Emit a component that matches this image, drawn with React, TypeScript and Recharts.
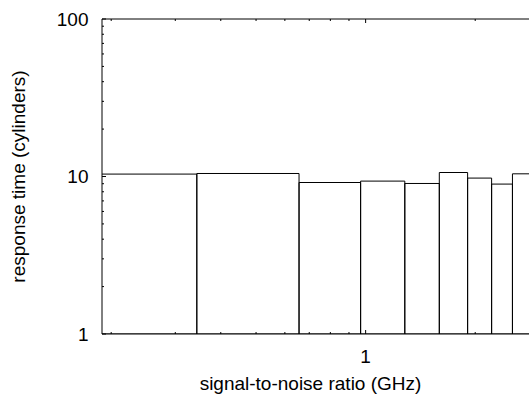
import React from 'react';
import { ComposedChart, XAxis, YAxis, ReferenceArea, Label } from 'recharts';

// Box centers (x, GHz) and heights (response time)
const boxCenters = [0.1875, 0.5, 0.8125, 1.125, 1.4375, 1.75, 2.0625, 2.375, 2.6875];
const boxValues = [10.36, 10.45, 9.16, 9.35, 9.03, 10.6, 9.77, 8.95, 10.4];
const BOX_WIDTH = 0.3125;

const xTicks = [0.2, 0.3, 0.4, 0.5, 0.6, 0.7, 0.8, 0.9, 1, 2, 3];
const xMajorLabels = [1];
const yTicks = [1, 2, 3, 4, 5, 6, 7, 8, 9, 10, 20, 30, 40, 50, 60, 70, 80, 90, 100];
const yMajorLabels = [1, 10, 100];

const X_DOMAIN: [number, number] = [0.1887, 3.11];
const Y_DOMAIN: [number, number] = [1, 100];

const xLabel = 'signal-to-noise ratio (GHz)';
const yLabel = 'response time (cylinders)';

const FONT = '"Liberation Sans", Arial, Helvetica, sans-serif';
const FONT_SIZE = 19;

const boxes = boxCenters.map((c, i) => ({ x: c, x1: c - BOX_WIDTH / 2, x2: c + BOX_WIDTH / 2, v: boxValues[i] }));

const BottomTick = (props: any) => {
  const { x, y, payload } = props;
  const major = xMajorLabels.includes(payload.value);
  return (
    <g>
      <line x1={x} x2={x} y1={y} y2={y - (major ? 4 : 2)} stroke="#000" strokeWidth={1} />
      {major && (
        <text x={x} y={y + 28.7} textAnchor="middle" fontSize={FONT_SIZE} fontFamily={FONT} fill="#000">
          {payload.value}
        </text>
      )}
    </g>
  );
};

const TopTick = (props: any) => {
  const { x, y, payload } = props;
  const major = xMajorLabels.includes(payload.value);
  return <line x1={x} x2={x} y1={y} y2={y + (major ? 4 : 2)} stroke="#000" strokeWidth={1} />;
};

const LeftTick = (props: any) => {
  const { x, y, payload } = props;
  const major = yMajorLabels.includes(payload.value);
  return (
    <g>
      <line x1={x} x2={x + (major ? 4 : 2)} y1={y} y2={y} stroke="#000" strokeWidth={1} />
      {major && (
        <text x={x - 13.5} y={y + 6.5} textAnchor="end" fontSize={FONT_SIZE} fontFamily={FONT} fill="#000">
          {payload.value}
        </text>
      )}
    </g>
  );
};

export default function App() {
  return (
    <div style={{ position: 'absolute', left: 0, top: 0, width: 529, height: 396, overflow: 'hidden', background: '#fff' }}>
      <ComposedChart
        width={545}
        height={396}
        data={boxes}
        margin={{ top: 18, right: 0, bottom: 22, left: 42 }}
      >
        <XAxis
          xAxisId="bottom"
          dataKey="x"
          orientation="bottom"
          type="number"
          scale="log"
          domain={X_DOMAIN}
          allowDataOverflow
          ticks={xTicks}
          interval={0}
          tickSize={0}
          tickMargin={0}
          tickLine={false}
          tick={<BottomTick />}
          height={40}
          axisLine={{ stroke: '#000', strokeWidth: 1 }}
        >
          <Label
            content={(p: any) => (
              <text
                x={p.viewBox.x + 208.5}
                y={p.viewBox.y + 56}
                textAnchor="middle"
                fontSize={FONT_SIZE}
                fontFamily={FONT}
                fill="#000"
              >
                {xLabel}
              </text>
            )}
          />
        </XAxis>
        <XAxis
          xAxisId="top"
          dataKey="x"
          orientation="top"
          type="number"
          scale="log"
          domain={X_DOMAIN}
          allowDataOverflow
          ticks={xTicks}
          interval={0}
          tickSize={0}
          tickMargin={0}
          tickLine={false}
          tick={<TopTick />}
          height={1}
          axisLine={{ stroke: '#000', strokeWidth: 1 }}
        />
        <YAxis
          yAxisId="left"
          dataKey="v"
          type="number"
          scale="log"
          domain={Y_DOMAIN}
          allowDataOverflow
          ticks={yTicks}
          interval={0}
          tickSize={0}
          tickMargin={0}
          tickLine={false}
          tick={<LeftTick />}
          width={60}
          axisLine={{ stroke: '#000', strokeWidth: 1 }}
        >
          <Label
            content={(p: any) => {
              const cx = p.viewBox.x - 17;
              const cy = p.viewBox.y + p.viewBox.height / 2;
              return (
                <text
                  x={cx}
                  y={cy}
                  transform={`rotate(-90, ${cx}, ${cy})`}
                  textAnchor="middle"
                  fontSize={FONT_SIZE}
                  fontFamily={FONT}
                  fill="#000"
                >
                  {yLabel}
                </text>
              );
            }}
          />
        </YAxis>
        {boxes.map((b, i) => (
          <ReferenceArea
            key={i}
            xAxisId="bottom"
            yAxisId="left"
            x1={b.x1}
            x2={b.x2}
            y1={1}
            y2={b.v}
            ifOverflow="hidden"
            fill="none"
            stroke="#000"
            strokeWidth={1}
            isAnimationActive={false}
          />
        ))}
      </ComposedChart>
    </div>
  );
}
